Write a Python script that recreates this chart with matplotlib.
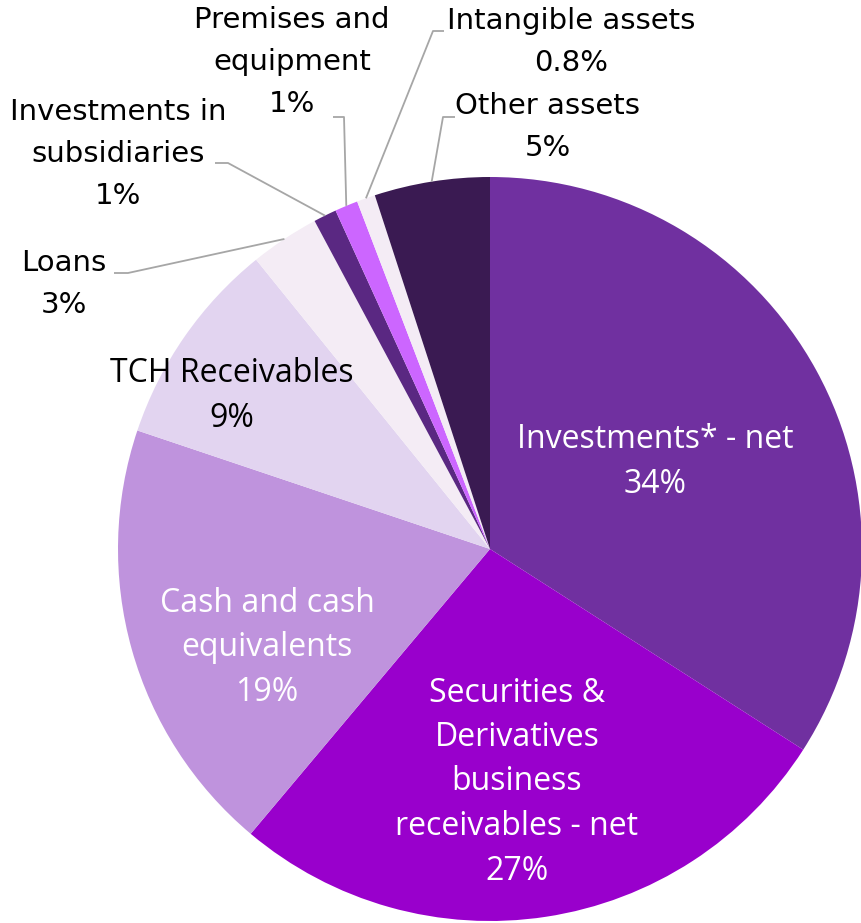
import numpy as np
import matplotlib.pyplot as plt

# asset mix, clockwise from 12 o'clock
categories = [
    "Investments* - net",
    "Securities &\nDerivatives\nbusiness\nreceivables - net",
    "Cash and cash\nequivalents",
    "TCH Receivables",
    "Loans",
    "Investments in\nsubsidiaries",
    "Premises and\nequipment",
    "Intangible assets",
    "Other assets",
]
shares = [34, 27, 19, 9, 3, 1, 1, 0.8, 5]
colors = ["#7030A0", "#9900CC", "#BF93DD", "#E2D4F0", "#F4ECF5",
          "#5A2882", "#CC66FF", "#F4ECF5", "#3A1A52"]

W, H = 862, 923
CX, CY, R = 490, H - 549, 372

inner_font = ["Open Sans", "DejaVu Sans"]
outer_font = ["DejaVu Sans"]

fig = plt.figure(figsize=(W / 100, H / 100), dpi=100)
ax = fig.add_axes([0, 0, 1, 1])

wedges, _ = ax.pie(shares, colors=colors, startangle=90, counterclock=False,
                   center=(CX, CY), radius=R, frame=True,
                   wedgeprops=dict(linewidth=0))
ax.set_xlim(0, W)
ax.set_ylim(0, H)
ax.set_aspect("equal")
ax.axis("off")

# label placement: (text centre x, text centre y, text colour, inside/outside, stub)
# stub = (x where the leader leaves the text, x where it bends, y of stub)
layout = [
    (655, 462, "white", "in", None),
    (517, 782, "white", "in", None),
    (267, 648, "white", "in", None),
    (232, 396, "black", "in", None),
    (64, 284, "black", "out", (114, 128, 273)),
    (118, 154, "black", "out", (215, 228, 163)),
    (292, 62, "black", "out", (333, 344, 117)),
    (571, 42, "black", "out", (444, 433, 31)),
    (548, 127, "black", "out", (455, 443, 117)),
]

for wedge, name, val, (tx, ty, col, kind, stub) in zip(wedges, categories, shares, layout):
    text = f"{name}\n{val:g}%"
    if kind == "in":
        ax.text(tx, H - ty, text, ha="center", va="center", color=col,
                fontsize=23, family=inner_font, linespacing=1.46)
    else:
        ax.text(tx, H - ty, text, ha="center", va="center", color=col,
                fontsize=21, family=outer_font, linespacing=1.64)
    if stub is not None:
        mid = np.deg2rad((wedge.theta1 + wedge.theta2) / 2)
        ex, ey = CX + R * np.cos(mid), CY + R * np.sin(mid)
        x0, x1, sy = stub
        ax.plot([x0, x1, ex], [H - sy, H - sy, ey], color="#A6A6A6",
                linewidth=1.3, solid_capstyle="butt")

fig.savefig("out.png", dpi=100)
